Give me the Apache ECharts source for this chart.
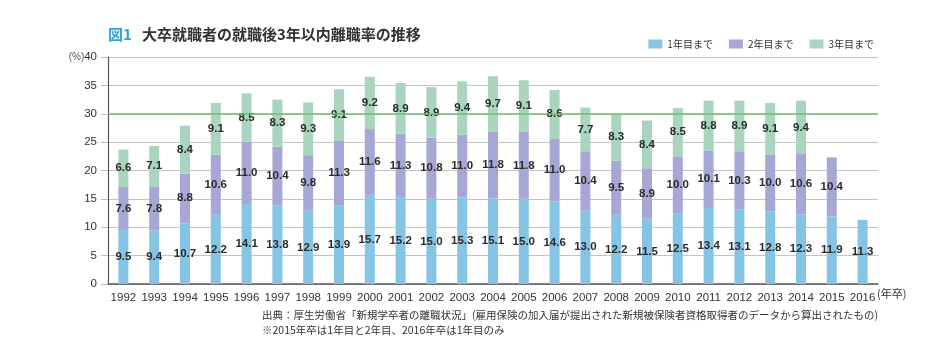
<!DOCTYPE html>
<html><head><meta charset="utf-8">
<script src="https://cdn.jsdelivr.net/npm/echarts@6/dist/echarts.min.js"></script>
<style>html,body{margin:0;padding:0;background:#fff}#c{width:947px;height:355px}</style>
</head><body><div id="c"></div>
<script>
const categories = ['1992','1993','1994','1995','1996','1997','1998','1999','2000','2001','2002','2003','2004','2005','2006','2007','2008','2009','2010','2011','2012','2013','2014','2015','2016'];
const year1 = [9.5,9.4,10.7,12.2,14.1,13.8,12.9,13.9,15.7,15.2,15.0,15.3,15.1,15.0,14.6,13.0,12.2,11.5,12.5,13.4,13.1,12.8,12.3,11.9,11.3];
const year2 = [7.6,7.8,8.8,10.6,11.0,10.4,9.8,11.3,11.6,11.3,10.8,11.0,11.8,11.8,11.0,10.4,9.5,8.9,10.0,10.1,10.3,10.0,10.6,10.4,null];
const year3 = [6.6,7.1,8.4,9.1,8.5,8.3,9.3,9.1,9.2,8.9,8.9,9.4,9.7,9.1,8.6,7.7,8.3,8.4,8.5,8.8,8.9,9.1,9.4,null,null];
const seriesNames = ['1年目まで','2年目まで','3年目まで'];
const yTicks = [0,5,10,15,20,25,30,35,40];

const FONT = '"Noto Sans CJK JP", "Noto Sans", sans-serif';
const NUM = '"Liberation Sans", "Noto Sans CJK JP", sans-serif';
const colors = ['#86c4e6','#a7a7d5','#a9d4be'];
const chart = echarts.init(document.getElementById('c'), null, {renderer:'canvas'});
const label = {show:true, position:'inside', color:'#2b2b2b', fontSize:11.5, fontWeight:'bold', fontFamily:NUM,
  formatter: p => p.value == null ? '' : p.value.toFixed(1)};
function mk(i, data){
  return {name:seriesNames[i], type:'bar', stack:'t', data:data, barWidth:10,
    itemStyle:{color:colors[i]}, label:label, animation:false};
}
const s1 = mk(0, year1);
s1.markLine = {silent:true, symbol:'none', label:{show:false}, lineStyle:{color:'#72bd72', width:1.6, type:'solid'},
  data:[{yAxis:30}]};
chart.setOption({
  animation:false,
  textStyle:{fontFamily:FONT},
  grid:{left:108, right:69, top:57, bottom:71, containLabel:false},
  legend:{data:seriesNames, right:68, top:34, itemWidth:14, itemHeight:9, itemGap:16,
    textStyle:{fontSize:10, color:'#333', fontFamily:FONT}, icon:'rect'},
  xAxis:{type:'category', data:categories,
    axisLine:{lineStyle:{color:'#555', width:1.5}}, axisTick:{show:false},
    axisLabel:{color:'#333', fontSize:11.5, margin:8, interval:0, fontFamily:NUM}},
  yAxis:{type:'value', min:yTicks[0], max:yTicks[yTicks.length-1], interval:5,
    axisLine:{show:true, lineStyle:{color:'#555', width:1.2}},
    axisTick:{show:true, length:7, lineStyle:{color:'#bbb'}},
    splitLine:{lineStyle:{color:'#c4c4c4', width:1.2}},
    axisLabel:{color:'#333', fontSize:11.5, margin:11, fontFamily:NUM,
      formatter: v => v === 40 ? '{p|(%)}' + v : String(v),
      rich:{p:{fontSize:10, color:'#555', fontFamily:NUM}}}},
  series:[s1, mk(1, year2), mk(2, year3)],
  graphic:[
    {type:'text', left:108, top:27, style:{text:'図1', fill:'#2aa5d8', font:'bold 15px '+FONT}},
    {type:'text', left:142, top:27, style:{text:'大卒就職者の就職後3年以内離職率の推移', fill:'#333', font:'bold 15px '+FONT}},
    {type:'text', left:877, top:288, style:{text:'(年卒)', fill:'#333', font:'11px '+FONT}},
    {type:'text', left:262, top:310, style:{text:'出典：厚生労働省「新規学卒者の離職状況」(雇用保険の加入届が提出された新規被保険者資格取得者のデータから算出されたもの)', fill:'#333', font:'10.5px '+FONT}},
    {type:'text', left:262, top:325, style:{text:'※2015年卒は1年目と2年目、2016年卒は1年目のみ', fill:'#333', font:'10.5px '+FONT}}
  ]
});
</script></body></html>
